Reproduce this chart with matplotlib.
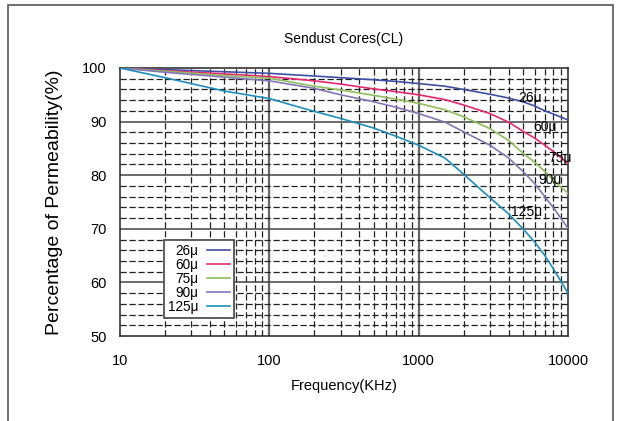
import numpy as np
import matplotlib
matplotlib.use("Agg")
import matplotlib.pyplot as plt
from matplotlib.patches import Rectangle

plt.rcParams['font.family'] = ['Liberation Sans', 'DejaVu Sans']

# --- data ---
freq = [10, 20, 50, 100, 200, 300, 500, 700, 1000, 1500, 2000, 3000, 4000, 5000, 6000, 7000, 8000, 10000]
perm_26 = [100, 99.7, 99.3, 99.0, 98.5, 98.2, 97.8, 97.5, 97.1, 96.6, 96.0, 95.1, 94.4, 93.7, 92.9, 92.0, 91.4, 90.3]
perm_60 = [100, 99.5, 98.9, 98.4, 97.6, 97.0, 96.1, 95.6, 95.0, 94.1, 93.1, 91.5, 89.9, 88.2, 86.9, 85.6, 84.4, 82.2]
perm_75 = [100, 99.4, 98.6, 98.1, 96.6, 95.9, 94.9, 94.2, 93.4, 92.2, 90.9, 88.7, 86.5, 84.1, 82.4, 80.7, 79.1, 76.6]
perm_90 = [100, 99.2, 98.3, 97.6, 96.2, 95.0, 93.7, 92.7, 91.5, 89.9, 88.1, 85.6, 83.2, 80.7, 78.4, 76.0, 73.9, 70.1]
perm_125 = [100, 98.2, 95.7, 94.3, 91.9, 90.6, 88.8, 87.3, 85.6, 83.2, 80.2, 75.8, 72.8, 70.0, 67.5, 65.0, 62.5, 58.0]

labels = ['26μ', '60μ', '75μ', '90μ', '125μ']
series = [perm_26, perm_60, perm_75, perm_90, perm_125]
colors = ['#3f4fa6', '#e8266e', '#8dbf5c', '#8676b8', '#1d8fbf']
# where the curve labels sit (freq, %)
label_pos = [(5600, 94.4), (7000, 89.0), (8850, 83.2), (7600, 79.1), (5300, 73.1)]

fig = plt.figure(figsize=(6.21, 4.21), dpi=100)
ax = fig.add_axes([0.1932, 0.2019, 0.7214, 0.6366])

# outer frame of the picture
fig.patches.append(Rectangle((8 / 621, -0.05), 605 / 621, 1.05 - 5 / 421,
                             transform=fig.transFigure, fill=False,
                             edgecolor='#555555', linewidth=1.2))

ax.set_xscale('log')
ax.set_xlim(10, 10000)
ax.set_ylim(50, 100)

dash = (0, (5, 2.2))
# grid lines
for dec in [10, 100, 1000]:
    for m in range(2, 10):
        ax.axvline(dec * m, color='#222222', linestyle=dash, linewidth=0.9, zorder=1)
for v in [100, 1000]:
    ax.axvline(v, color='#666666', linewidth=1.6, zorder=1)
for y in range(52, 100, 2):
    if y % 10 == 0:
        ax.axhline(y, color='#444444', linewidth=1.1, zorder=1)
    else:
        ax.axhline(y, color='#222222', linestyle=dash, linewidth=0.9, zorder=1)

handles = []
for name, vals, c in zip(labels, series, colors):
    h, = ax.plot(freq, vals, color=c, linewidth=1.2, label=name, zorder=3)
    handles.append(h)

for name, (fx, fy) in zip(labels, label_pos):
    ax.text(fx, fy, name, fontsize=10, ha='center', va='center', zorder=4)

leg = ax.legend(handles=handles, loc='upper left', bbox_to_anchor=(0.098, 0.358),
                fontsize=9.8, frameon=True, fancybox=False, shadow=False,
                markerfirst=False, handlelength=1.7, handletextpad=0.6,
                labelspacing=0.0, borderpad=0.3, borderaxespad=0)
leg.get_frame().set_edgecolor('#444444')
leg.get_frame().set_linewidth(1.2)
leg.get_frame().set_alpha(1)
for t in leg.get_texts():
    t.set_ha('right')

ax.set_xticks([10, 100, 1000, 10000])
ax.set_xticklabels(['10', '100', '1000', '10000'])
ax.set_yticks([50, 60, 70, 80, 90, 100])
ax.minorticks_off()
ax.tick_params(length=0, labelsize=10.5)
ax.tick_params(axis='x', pad=13)
ax.tick_params(axis='y', pad=9.5)

for s in ax.spines.values():
    s.set_color('#222222')
    s.set_linewidth(1.1)

ax.set_title('Sendust Cores(CL)', fontsize=10, pad=18)
ax.set_xlabel('Frequency(KHz)', fontsize=10.5, labelpad=8)
ax.set_ylabel('Percentage of Permeability(%)', fontsize=14, labelpad=14)

fig.savefig('out.png', dpi=100)
